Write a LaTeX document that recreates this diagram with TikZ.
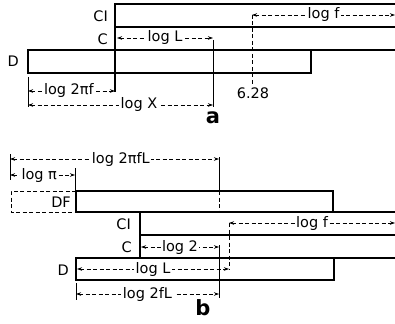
\documentclass[tikz,border=0pt]{standalone}
\usepackage{fontspec}
\setmainfont{DejaVu Sans}
\usetikzlibrary{arrows.meta}
\begin{document}
\begin{tikzpicture}[x=1pt,y=-1pt,
 strip/.style={line width=1.6pt},
 thinln/.style={line width=0.9pt},
 dashln/.style={line width=0.8pt, dash pattern=on 4pt off 2.5pt},
 dim/.style={line width=0.8pt, dash pattern=on 4pt off 2.5pt, {Stealth[length=5pt,width=3.5pt]}-{Stealth[length=5pt,width=3.5pt]}},
 lab/.style={fill=white, inner sep=1.5pt, font=\fontsize{14.5}{16}\selectfont},
 scl/.style={font=\fontsize{14.5}{16}\selectfont, inner sep=0pt, anchor=east},
 part/.style={font=\fontsize{21}{23}\selectfont\bfseries, inner sep=0pt}
]
\useasboundingbox (0,0) rectangle (395,323);
% ---------------- part a ----------------
\draw[strip] (395,4) -- (115,4) -- (115,92);
\draw[strip] (115,27) -- (395,27);
\draw[strip] (395,50) -- (28,50) -- (28,73) -- (311,73) -- (311,50);
\draw[thinln] (28,77) -- (28,107);
\draw[thinln] (213,40) -- (213,107);
\draw[dashln] (252,15) -- (252,85);
\coordinate (aL1) at (117,38); \coordinate (aL2) at (213,38);
\coordinate (af1) at (252,15); \coordinate (af2) at (395,15);
\coordinate (ap1) at (28,91);  \coordinate (ap2) at (115,91);
\coordinate (aX1) at (28,105); \coordinate (aX2) at (213,105);
\draw[dim] (aL1) -- node[lab] (alogL) {log L} (aL2);
\draw[dim] (af1) -- node[lab] (alogf) {log f} (af2);
\draw[dim] (ap1) -- node[lab,pos=0.47] (alogpf) {log 2πf} (ap2);
\draw[dim] (aX1) -- node[lab,pos=0.6] (alogX) {log X} (aX2);
\node[scl] (aCI) at (108,16) {CI};
\node[scl] (aC) at (108,39) {C};
\node[scl] (aD) at (19,61) {D};
\node[lab,fill=none] (a628) at (253,93) {6.28};
\node[part] (apart) at (213,118) {a};
% ---------------- part b ----------------
\draw[thinln] (10,154) -- (10,180);
\draw[thinln] (75,168) -- (75,190);
\draw[dashln,line width=1pt] (76,191) -- (11,191) -- (11,212) -- (76,212);
\draw[strip] (76,212) -- (76,191) -- (333,191) -- (333,212);
\draw[strip] (76,212) -- (395,212);
\draw[strip] (140,212) -- (140,258);
\draw[strip] (140,235) -- (395,235);
\draw[strip] (395,258) -- (76,258) -- (76,280) -- (334,280) -- (334,258);
\draw[thinln] (219,157) -- (219,191);
\draw[dashln] (219,191) -- (219,212);
\draw[thinln] (219,245) -- (219,298);
\draw[dashln] (229,223) -- (229,269);
\draw[thinln] (76,283) -- (76,300);
\coordinate (bP1) at (10,159);  \coordinate (bP2) at (219,159);
\coordinate (bpi1) at (10,175); \coordinate (bpi2) at (75,175);
\coordinate (b21) at (141,247); \coordinate (b22) at (219,247);
\coordinate (bf1) at (229,223); \coordinate (bf2) at (395,223);
\coordinate (bL1) at (77,269);  \coordinate (bL2) at (229,269);
\coordinate (bfL1) at (76,294); \coordinate (bfL2) at (219,294);
\draw[dim] (bP1) -- node[lab,pos=0.53] (blogpfL) {log 2πfL} (bP2);
\draw[dim] (bpi1) -- node[lab,pos=0.45] (blogpi) {log π} (bpi2);
\draw[dim] (b21) -- node[lab] (blog2) {log 2} (b22);
\draw[dim] (bf1) -- node[lab] (blogf) {log f} (bf2);
\draw[dim] (bL1) -- node[lab] (blogL) {log L} (bL2);
\draw[dim] (bfL1) -- node[lab] (blogfL) {log 2fL} (bfL2);
\node[scl] (bDF) at (71,202) {DF};
\node[scl] (bCI) at (131,224) {CI};
\node[scl] (bC) at (132,247) {C};
\node[scl] (bD) at (69,270) {D};
\node[part] (bpart) at (203,308) {b};
\end{tikzpicture}
\end{document}
